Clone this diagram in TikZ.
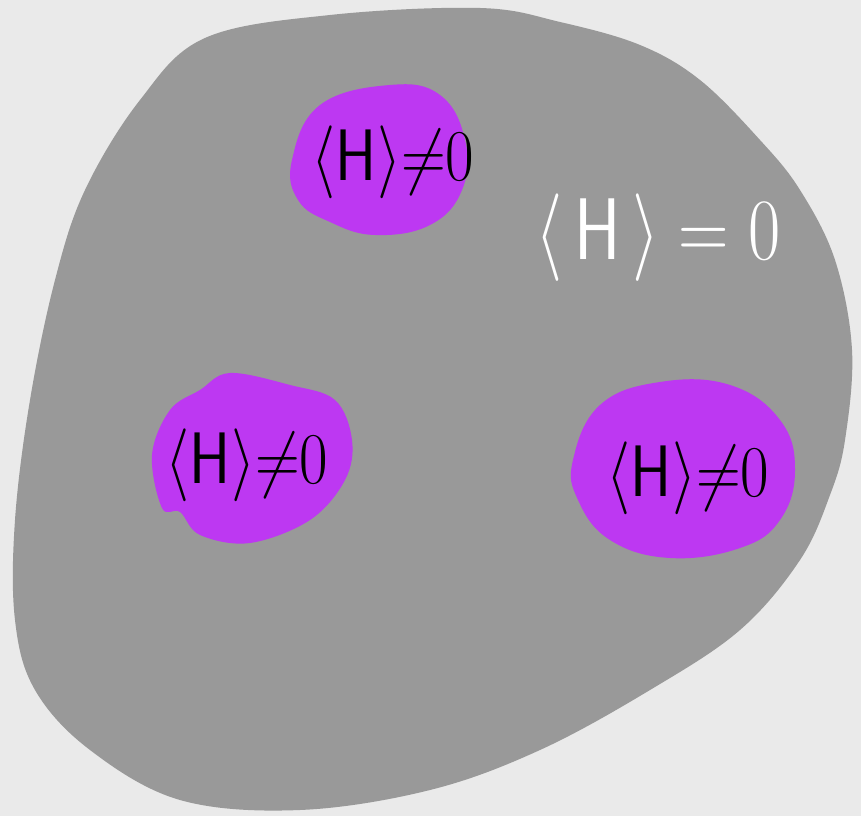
\documentclass[tikz,border=0pt]{standalone}
\usepackage{tikz}
\usetikzlibrary{positioning}
\definecolor{BgGray}{HTML}{EAEAEA}
\definecolor{Vacuum}{HTML}{999999}
\definecolor{Bubble}{HTML}{BD38F2}
\tikzset{
  bubble/.style={fill=Bubble,draw=none},
  vevlabel/.style={font=\fontsize{19.5}{22}\selectfont,text=black,inner sep=0pt,
    xscale=0.85,transform shape},
  bigvev/.style={font=\fontsize{32}{34}\selectfont,text=white,inner sep=0pt,
    xscale=0.8,transform shape}}
\newcommand{\vevnonzero}{$\langle\mathsf{H}\rangle{\neq}0$}

\begin{document}
\begin{tikzpicture}[x=0.01cm,y=-0.01cm]
  \useasboundingbox (0,0) rectangle (861,816);
  \fill[BgGray] (0,0) rectangle (861,816);
  % outer region
  \fill[Vacuum] plot[smooth cycle,tension=0.6] coordinates{
    (205,38) (330,15) (480,8) (560,22) (640,45) (700,80) (760,140)
    (800,190) (835,260) (852,350) (845,440) (830,495) (800,560)
    (740,630) (650,690) (540,750) (430,790) (300,810) (180,800)
    (90,750) (35,690) (15,620) (15,520) (30,400) (55,280) (85,190)
    (140,100)};
  % bubbles
  \fill[bubble] plot[smooth cycle,tension=0.7] coordinates{
    (320,105) (390,85) (440,95) (465,140) (462,190) (430,225)
    (375,235) (330,222) (298,200) (292,160)};
  \fill[bubble] plot[smooth cycle,tension=0.6] coordinates{
    (230,373) (290,385) (335,400) (352,440) (345,480) (310,520)
    (250,543) (200,535) (180,512) (162,508) (152,455) (170,410)
    (200,390)};
  \fill[bubble] plot[smooth cycle,tension=0.7] coordinates{
    (600,405) (660,382) (730,385) (780,420) (795,470) (780,520)
    (740,548) (670,558) (610,540) (578,500) (573,460)};
  % labels
  \node[vevlabel] (vevtop)   at (393,162) {\vevnonzero};
  \node[vevlabel] (vevleft)  at (247,465) {\vevnonzero};
  \node[vevlabel,font=\fontsize{20.5}{22}\selectfont] (vevright) at (688,478) {\vevnonzero};
  \node[bigvev] (vevout) at (658,238) {$\langle\,\mathsf{H}\,\rangle = 0$};
\end{tikzpicture}
\end{document}
